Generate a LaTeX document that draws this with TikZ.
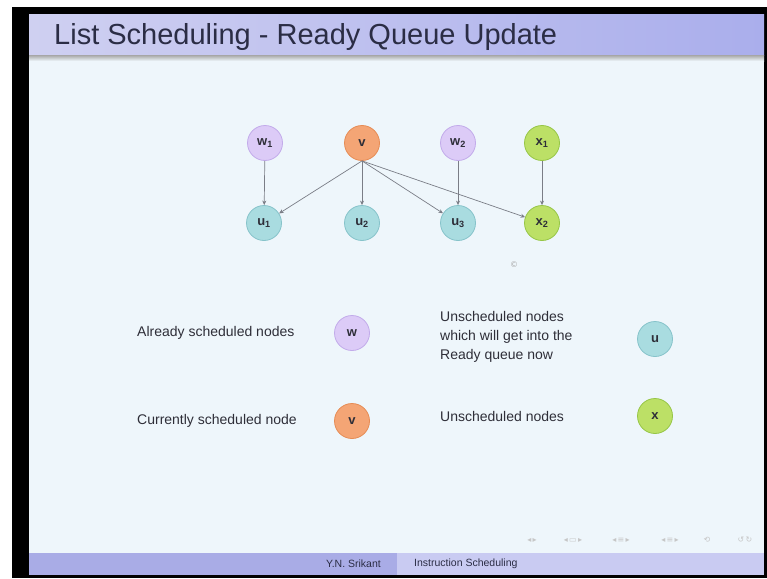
\documentclass[tikz,border=0pt]{standalone}
\usepackage{fontspec}
\setmainfont{Liberation Sans}
\newfontfamily\symfont{DejaVu Sans}
\usetikzlibrary{arrows.meta,shadings}
\definecolor{bodybg}{HTML}{EEF6FB}
\definecolor{titleL}{HTML}{CFD0F1}
\definecolor{titleR}{HTML}{AAAEEC}
\definecolor{footL}{HTML}{A9ACE6}
\definecolor{footR}{HTML}{C9CBF2}
\definecolor{titletext}{HTML}{2B2D45}
\definecolor{wfill}{HTML}{DCCBF7}
\definecolor{wdraw}{HTML}{C2ABEA}
\definecolor{vfill}{HTML}{F4A575}
\definecolor{vdraw}{HTML}{E68C55}
\definecolor{ufill}{HTML}{A9DCE0}
\definecolor{udraw}{HTML}{86C3CA}
\definecolor{xfill}{HTML}{BCE066}
\definecolor{xdraw}{HTML}{96C646}
\definecolor{edgecol}{HTML}{7A7D86}
\definecolor{labtext}{HTML}{2E2E38}
\tikzset{
  gnode/.style={circle, minimum size=35pt, inner sep=0pt, line width=0.8pt,
    font=\fontsize{13}{13}\selectfont\bfseries, text=labtext},
  wnode/.style={gnode, fill=wfill, draw=wdraw},
  vnode/.style={gnode, fill=vfill, draw=vdraw},
  unode/.style={gnode, fill=ufill, draw=udraw},
  xnode/.style={gnode, fill=xfill, draw=xdraw},
  edge/.style={draw=edgecol, line width=0.7pt, -{Stealth[length=4.5pt,width=4pt]}},
  legtext/.style={anchor=west, inner sep=0pt, text=labtext,
    font=\fontsize{14}{19}\selectfont, align=left},
  foottext/.style={inner sep=0pt, font=\fontsize{10.5}{10.5}\selectfont, text=titletext},
  navsym/.style={inner sep=0pt, text=gray!45, font=\symfont\fontsize{8}{8}\selectfont},
}
\begin{document}
\begin{tikzpicture}[x=1pt,y=-1pt]
\useasboundingbox (0,0) rectangle (767,578);
% frame
\fill[white] (0,0) rectangle (767,578);
\fill[black] (12,7) rectangle (767,578);
\fill[bodybg] (29,15) rectangle (764,575);
% title bar
\shade[left color=titleL, right color=titleR] (29,15) rectangle (764,55);
\shade[top color=gray!70, bottom color=bodybg] (29,55) rectangle (764,61);
\node[anchor=base west, inner sep=0pt, text=titletext,
  font=\fontsize{29}{29}\selectfont] (title) at (54,45) {List Scheduling - Ready Queue Update};
% footer
\fill[footL] (29,553) rectangle (397,575);
\fill[footR] (397,553) rectangle (764,575);
\node[foottext, anchor=east] (author) at (381,564) {Y.N. Srikant};
\node[foottext, anchor=west] (ftitle) at (414,564) {Instruction Scheduling};
% navigation symbols
\node[navsym] (nav1) at (532,540) {◂\,▸};
\node[navsym] (nav2) at (573,540) {◂\,▭\,▸};
\node[navsym] (nav3) at (621,540) {◂\,≡\,▸};
\node[navsym] (nav4) at (670,540) {◂\,≡\,▸};
\node[navsym] (nav5) at (707,540) {⟲};
\node[navsym] (nav6) at (745,540) {↺\,↻};
% graph nodes
\node[wnode] (w1) at (265,143) {w\textsubscript{1}};
\node[vnode] (v)  at (362,143) {v};
\node[wnode] (w2) at (458,143) {w\textsubscript{2}};
\node[xnode] (x1) at (542,143) {x\textsubscript{1}};
\node[unode] (u1) at (264,223) {u\textsubscript{1}};
\node[unode] (u2) at (362,223) {u\textsubscript{2}};
\node[unode] (u3) at (458,223) {u\textsubscript{3}};
\node[xnode] (x2) at (542,223) {x\textsubscript{2}};
% edges
\draw[edge] (w1) -- (u1);
\draw[edge] (v.south) -- (u1);
\draw[edge] (v) -- (u2);
\draw[edge] (v.south) -- (u3);
\draw[edge] (v.south) -- (x2);
\draw[edge] (w2) -- (u3);
\draw[edge] (x1) -- (x2);
\node[inner sep=0pt, text=gray!70, font=\fontsize{8}{8}\selectfont] (copy) at (514,265) {\symfont ©};
% legend
\node[legtext] (lw) at (137,333) {Already scheduled nodes};
\node[wnode] (legw) at (352,333) {w};
\node[legtext] (lv) at (137,421) {Currently scheduled node};
\node[vnode] (legv) at (352,421) {v};
\node[legtext] (lu) at (440,337) {Unscheduled nodes\\which will get into the\\Ready queue now};
\node[unode] (legu) at (655,339) {u};
\node[legtext] (lx) at (440,416) {Unscheduled nodes};
\node[xnode] (legx) at (655,416) {x};
\end{tikzpicture}
\end{document}
